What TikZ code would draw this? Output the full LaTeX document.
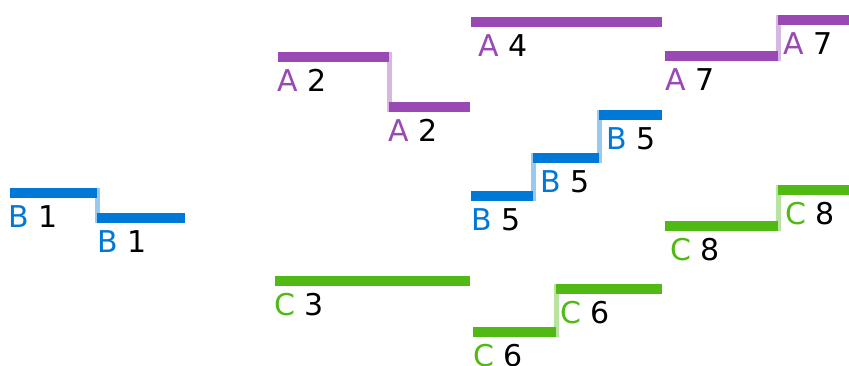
\documentclass[tikz,border=0pt]{standalone}
\usepackage{fontspec}
\setmainfont{DejaVu Sans}
\definecolor{cA}{RGB}{154,72,180}
\definecolor{cB}{RGB}{0,120,215}
\definecolor{cC}{RGB}{80,185,20}
\begin{document}
\begin{tikzpicture}[x=1pt, y=-1pt,
    bar/.style = {line width=10pt},
    link/.style = {line width=5pt, opacity=0.4},
    lbl/.style = {anchor=north west, inner sep=0pt, font=\fontsize{30}{36}\selectfont}]
    \useasboundingbox (0,0) rectangle (849,365);

    % Bars with their labels
    \foreach \name/\xa/\xb/\y/\col/\key/\num/\lx in {
        a2a/278/389/57/cA/A/2/277, a2b/389/470/107/cA/A/2/388,
        a4/471/662/22/cA/A/4/478,
        a7a/665/778/56/cA/A/7/665, a7b/778/849/20/cA/A/7/783,
        b1a/10/97/193/cB/B/1/8, b1b/97/185/218/cB/B/1/97,
        b5a/471/533/196/cB/B/5/471, b5b/533/599/158/cB/B/5/540, b5c/599/662/115/cB/B/5/606,
        c3/275/470/281/cC/C/3/274,
        c6a/473/556/332/cC/C/6/473, c6b/556/662/289/cC/C/6/560,
        c8a/665/778/226/cC/C/8/670, c8b/778/849/190/cC/C/8/785}
    {
      \coordinate (\name s) at (\xa,\y);
      \coordinate (\name e) at (\xb,\y);
      \draw[bar, \col] (\name s) -- (\name e);
      \node[lbl] (\name l) at (\lx,\y+12) {\textcolor{\col}{\key} \num};
    }

    % Steps between bars
    \draw[link, cA] ([yshift=5pt]a2ae) -- ([yshift=-5pt]a2bs);
    \draw[link, cA] ([yshift=-5pt]a7ae) -- ([yshift=5pt]a7bs);
    \draw[link, cB] ([yshift=5pt]b1ae) -- ([yshift=-5pt]b1bs);
    \draw[link, cB] ([yshift=-5pt]b5ae) -- ([yshift=5pt]b5bs);
    \draw[link, cB] ([yshift=-5pt]b5be) -- ([yshift=5pt]b5cs);
    \draw[link, cC] ([yshift=-5pt]c6ae) -- ([yshift=5pt]c6bs);
    \draw[link, cC] ([yshift=-5pt]c8ae) -- ([yshift=5pt]c8bs);
\end{tikzpicture}
\end{document}
